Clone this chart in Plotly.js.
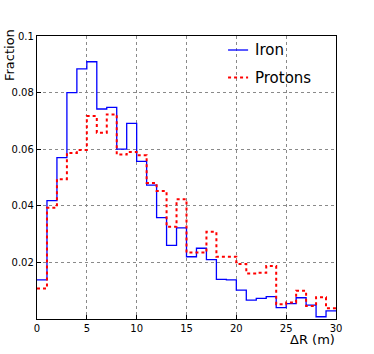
<!DOCTYPE html>
<html><head><meta charset="utf-8">
<script src="https://cdn.plot.ly/plotly-3.0.1.min.js"></script>
<style>body{margin:0;background:#fff}#c{width:374px;height:354px}</style>
</head><body><div id="c"></div>
<script>
const binEdges = [0,1,2,3,4,5,6,7,8,9,10,11,12,13,14,15,16,17,18,19,20,21,22,23,24,25,26,27,28,29,30];
const ironFrac = [0.0138,0.0418,0.057,0.080,0.0884,0.0909,0.0742,0.0748,0.060,0.0691,0.0557,0.0473,0.0358,0.026,0.0322,0.022,0.025,0.021,0.014,0.0138,0.0102,0.0067,0.0073,0.0079,0.0040,0.0054,0.0075,0.0049,0.0008,0.0029];
const protonFrac = [0.0108,0.0393,0.0494,0.0587,0.0597,0.0717,0.0658,0.0723,0.0581,0.059,0.0579,0.0481,0.0452,0.0326,0.0423,0.0235,0.0235,0.0308,0.022,0.022,0.0194,0.0161,0.0163,0.0187,0.0052,0.0058,0.010,0.0046,0.0077,0.0038];
const seriesNames = ['Iron','Protons'];
const xTicks = [0,5,10,15,20,25,30];
const yTicks = [0.02,0.04,0.06,0.08,0.1];
const yTickText = ['0.02','0.04','0.06','0.08','0.1'];

function stepY(v){ return v.concat([v[v.length-1]]); }

const ironLine = {shape:'hv', color:'#0000ff', width:1.3};
const protonLine = {shape:'hv', color:'#ff0000', width:2, dash:'dot'};
const traces = [
  {x: binEdges, y: stepY(ironFrac), type:'scatter', mode:'lines', name:seriesNames[0], line:ironLine},
  {x: binEdges, y: stepY(protonFrac), type:'scatter', mode:'lines', name:seriesNames[1], line:protonLine}
];
const font = {family:'DejaVu Sans', size:10, color:'#000'};
const legFont = {family:'DejaVu Sans', size:15, color:'#000'};
const layout = {
  width:374, height:354,
  margin:{l:37, r:38, t:36, b:35},
  paper_bgcolor:'#fff', plot_bgcolor:'#fff',
  showlegend:false,
  xaxis:{range:[0,30], tickvals:xTicks, ticktext:xTicks.map(String), tickfont:font,
         showgrid:true, gridcolor:'#8a8a8a', griddash:'dot', gridwidth:1,
         showline:true, linecolor:'#000', linewidth:1.2, mirror:true,
         ticks:'inside', ticklen:4, tickcolor:'#000', zeroline:false},
  yaxis:{range:[0,0.1], tickvals:yTicks, ticktext:yTickText, tickfont:font,
         showgrid:true, gridcolor:'#8a8a8a', griddash:'dot', gridwidth:1,
         showline:true, linecolor:'#000', linewidth:1.2, mirror:true,
         ticks:'inside', ticklen:4, tickcolor:'#000', zeroline:false},
  shapes:[
    {type:'line', xref:'paper', yref:'paper', x0:0.639, x1:0.706, y0:0.9505, y1:0.9505,
     line:{color:'#0000ff', width:1.3}},
    {type:'line', xref:'paper', yref:'paper', x0:0.639, x1:0.706, y0:0.853, y1:0.853,
     line:{color:'#ff0000', width:2, dash:'dot'}}
  ],
  annotations:[
    {text:seriesNames[0], xref:'paper', yref:'paper', x:0.722, y:0.9505, xanchor:'left', yanchor:'middle',
     showarrow:false, font:legFont},
    {text:seriesNames[1], xref:'paper', yref:'paper', x:0.722, y:0.853, xanchor:'left', yanchor:'middle',
     showarrow:false, font:legFont},
    {text:'Fraction', xref:'paper', yref:'paper', x:-0.09, y:1.032, xanchor:'center', yanchor:'top',
     textangle:-90, showarrow:false, font:{family:'DejaVu Sans', size:13, color:'#000'}},
    {text:'ΔR (m)', xref:'paper', yref:'paper', x:1.003, y:-0.074, xanchor:'right', yanchor:'middle',
     showarrow:false, font:{family:'DejaVu Sans', size:13, color:'#000'}}
  ]
};
Plotly.newPlot('c', traces, layout, {staticPlot:true, displayModeBar:false});
</script></body></html>
